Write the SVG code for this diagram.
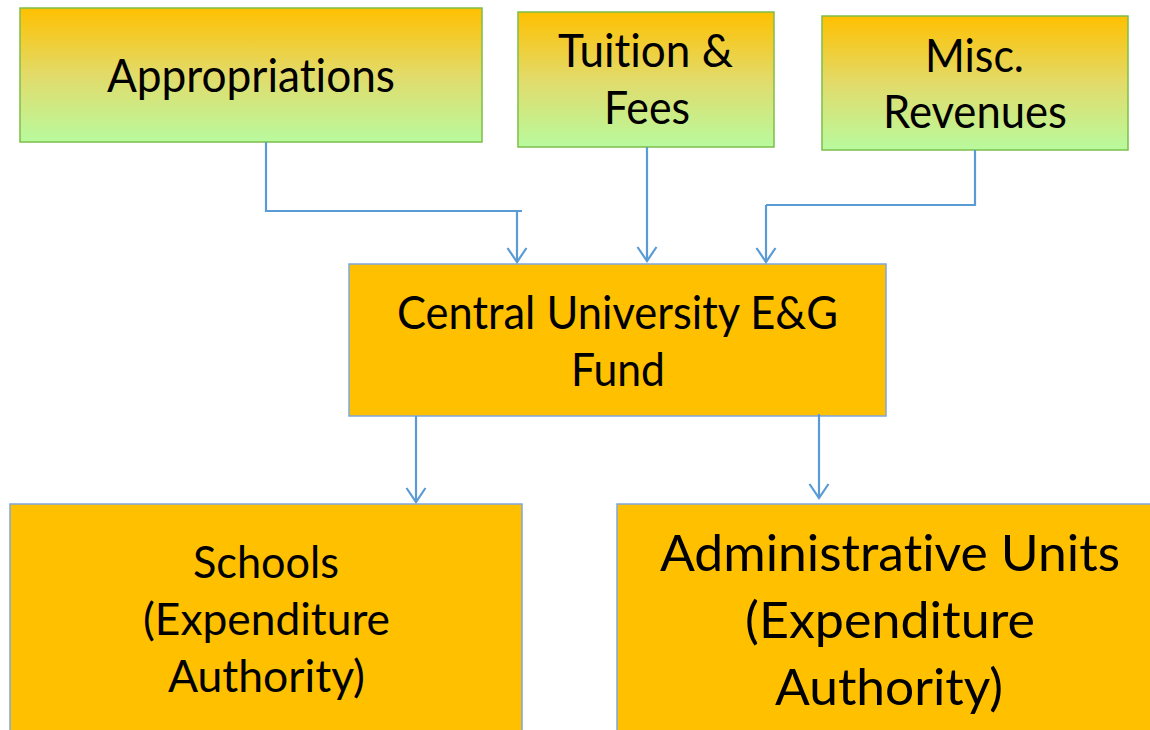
<svg xmlns="http://www.w3.org/2000/svg" width="1150" height="730" viewBox="0 0 1150 730">
<defs>
<linearGradient id="g" x1="0" y1="0" x2="0" y2="1">
<stop offset="0" stop-color="#FFC000"/>
<stop offset="0.5" stop-color="#E2DB6A"/>
<stop offset="1" stop-color="#B8FA9E"/>
</linearGradient>
<marker id="ah" markerWidth="24" markerHeight="24" refX="20" refY="12" orient="auto" markerUnits="userSpaceOnUse" viewBox="0 0 24 24">
<polyline points="6,2.5 20,12 6,21.5" fill="none" stroke="#5B9BD5" stroke-width="2.2"/>
</marker>
<style>
.src{fill:url(#g);stroke:#7DBE4A;stroke-width:1.5}
.org{fill:#FFC000;stroke:#7EA6E0;stroke-width:1.5}
.t{font-family:Lato,"Open Sans","Liberation Sans",sans-serif;fill:#000;text-anchor:start;font-variant-ligatures:none;font-feature-settings:"liga" 0,"dlig" 0}
.c{fill:none;stroke:#5B9BD5;stroke-width:2.2}
</style>
</defs>
<rect width="1150" height="730" fill="#fff"/>
<g id="appropriations">
<rect class="src" x="20" y="8" width="462" height="134"/>
<text class="t" x="107" y="92" font-size="46" textLength="288" lengthAdjust="spacingAndGlyphs">Appropriations</text>
</g>
<g id="tuition">
<rect class="src" x="518" y="12" width="256" height="135"/>
<text class="t" x="558" y="67" font-size="46" textLength="175" lengthAdjust="spacingAndGlyphs">Tuition &amp;</text>
<text class="t" x="604" y="124" font-size="46" textLength="86" lengthAdjust="spacingAndGlyphs">Fees</text>
</g>
<g id="misc">
<rect class="src" x="822" y="16" width="306" height="134"/>
<text class="t" x="925" y="72" font-size="46" textLength="99" lengthAdjust="spacingAndGlyphs">Misc.</text>
<text class="t" x="883" y="128" font-size="46" textLength="184" lengthAdjust="spacingAndGlyphs">Revenues</text>
</g>
<g id="central">
<rect class="org" x="349" y="264" width="537" height="152"/>
<text class="t" x="397" y="329" font-size="46" textLength="441" lengthAdjust="spacingAndGlyphs">Central University E&amp;G</text>
<text class="t" x="571" y="386" font-size="46" textLength="94" lengthAdjust="spacingAndGlyphs">Fund</text>
</g>
<g id="schools">
<rect class="org" x="10" y="504" width="512" height="240"/>
<text class="t" x="193" y="578" font-size="44" textLength="146" lengthAdjust="spacingAndGlyphs">Schools</text>
<text class="t" x="143" y="635" font-size="44" textLength="247" lengthAdjust="spacingAndGlyphs">(Expenditure</text>
<text class="t" x="168" y="692" font-size="44" textLength="197" lengthAdjust="spacingAndGlyphs">Authority)</text>
</g>
<g id="admin">
<rect class="org" x="617" y="504" width="545" height="240"/>
<text class="t" x="660" y="571" font-size="51" textLength="460" lengthAdjust="spacingAndGlyphs">Administrative Units</text>
<text class="t" x="745" y="638" font-size="51" textLength="290" lengthAdjust="spacingAndGlyphs">(Expenditure</text>
<text class="t" x="775" y="705" font-size="51" textLength="228" lengthAdjust="spacingAndGlyphs">Authority)</text>
</g>
<g id="connectors">
<path class="c" d="M266,142 V211 H522"/>
<path class="c" d="M517,211 V262" marker-end="url(#ah)"/>
<path class="c" d="M647,147 V261" marker-end="url(#ah)"/>
<path class="c" d="M975,150 V205 H766"/>
<path class="c" d="M766,205 V262" marker-end="url(#ah)"/>
<path class="c" d="M416,416 V502" marker-end="url(#ah)"/>
<path class="c" d="M819,414 V498" marker-end="url(#ah)"/>
</g>
</svg>
